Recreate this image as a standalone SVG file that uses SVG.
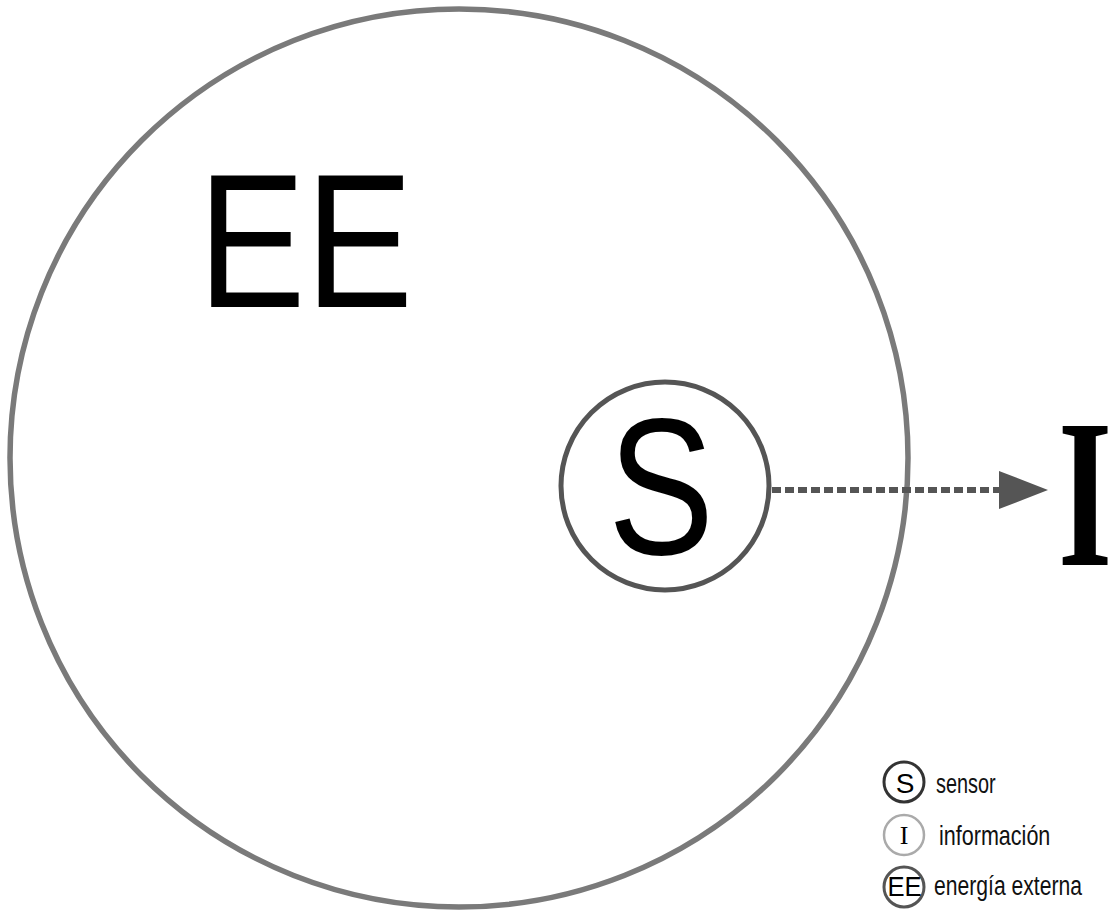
<svg xmlns="http://www.w3.org/2000/svg" width="1119" height="910" viewBox="0 0 1119 910">
  <defs>
    <style>
      .sans { font-family: "Liberation Sans", Arial, sans-serif; fill: #000; }
      .serif { font-family: "Liberation Serif", "Times New Roman", serif; fill: #000; }
      .label { font-family: "Liberation Sans", Arial, sans-serif; font-size: 28px; fill: #111; }
      .env { fill: none; stroke: #7a7a7a; stroke-width: 5.5; }
      .sensor { fill: #fff; stroke: #555; stroke-width: 5; }
      .flow { stroke: #555; stroke-width: 6; stroke-dasharray: 9 4; fill: none; }
    </style>
    <marker id="arrow" viewBox="0 0 49 38" refX="0" refY="19" markerWidth="49" markerHeight="38" markerUnits="userSpaceOnUse" orient="auto">
      <path d="M0,0 L49,19 L0,38 Z" fill="#555"/>
    </marker>
  </defs>

  <rect width="1119" height="910" fill="#fff"/>

  <!-- external energy field -->
  <g id="node-ee">
    <circle class="env" cx="459" cy="458" r="449"/>
    <text class="sans" font-size="192" transform="translate(198,307) scale(0.84,1)">EE</text>
  </g>

  <!-- connectors -->
  <g id="connectors">
    <line class="flow" x1="772" y1="490" x2="999" y2="490" marker-end="url(#arrow)"/>
  </g>

  <!-- sensor -->
  <g id="node-s">
    <circle class="sensor" cx="665" cy="486" r="104"/>
    <text class="sans" font-size="194" text-anchor="middle" transform="translate(661,554) scale(0.82,1)">S</text>
  </g>

  <!-- information -->
  <g id="node-i">
    <text class="serif" font-size="211" font-weight="bold" text-anchor="middle" transform="translate(1085,565) scale(0.66,1)">I</text>
  </g>

  <!-- legend -->
  <g id="legend">
    <g id="legend-s">
      <circle cx="904" cy="782" r="20" fill="#fff" stroke="#333" stroke-width="3"/>
      <text class="sans" font-size="28" text-anchor="middle" x="905" y="793">S</text>
      <text class="label" transform="translate(936,793) scale(0.71,1)">sensor</text>
    </g>
    <g id="legend-i">
      <circle cx="904" cy="835" r="20" fill="#fff" stroke="#aaa" stroke-width="2.5"/>
      <text class="serif" font-size="26" text-anchor="middle" x="904" y="844" fill="#333">I</text>
      <text class="label" transform="translate(939,845) scale(0.77,1)">información</text>
    </g>
    <g id="legend-ee">
      <circle cx="904" cy="887" r="20" fill="#fff" stroke="#555" stroke-width="3"/>
      <text class="sans" font-size="27" text-anchor="middle" transform="translate(904.5,896) scale(0.95,1)">EE</text>
      <text class="label" font-size="27" transform="translate(934,895) scale(0.755,1)">energía externa</text>
    </g>
  </g>
</svg>
